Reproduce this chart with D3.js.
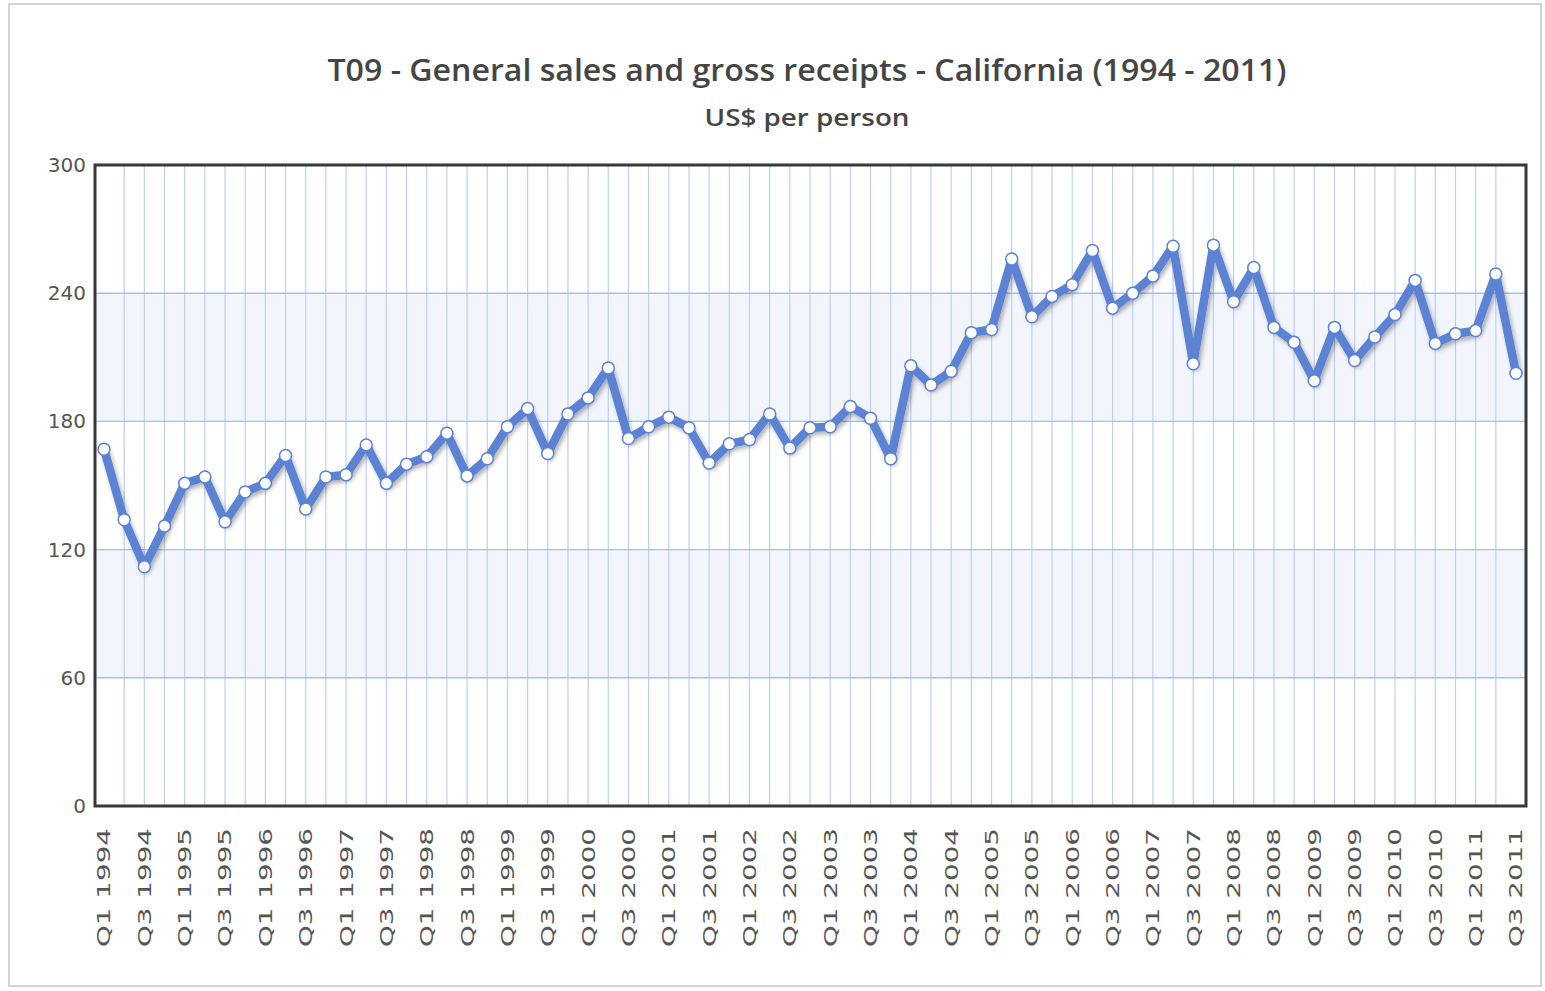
<html>
<head>
<script src="https://d3js.org/d3.v7.min.js"></script>
<style>
    body { margin: 0; background: #fff; }
    text { font-family: "DejaVu Sans", Verdana, sans-serif; }
</style>
</head>
<body>
<svg width="1545" height="991"></svg>
<script>
// quarter categories Q1 1994 .. Q3 2011
var years = d3.range(1994, 2012);
var quarters = [];
years.forEach(function(y) {
    ["Q1", "Q2", "Q3", "Q4"].forEach(function(q) { quarters.push(q + "  " + y); });
});
quarters = quarters.slice(0, 71);

// US$ per person
var values = [167, 134, 112, 131, 151, 154, 133, 147, 151, 164,
              139, 154, 155, 169, 151, 160, 163.5, 174.5, 154.5, 162.5,
              177.5, 186, 165, 183.5, 191, 205, 172, 177.5, 182, 177,
              160.5, 169.5, 171.5, 183.5, 167.5, 177, 177.5, 187, 181.5, 162.5,
              206, 197, 203.5, 221.5, 223, 256, 229, 238.5, 244, 260,
              233, 240, 248, 262, 207, 262.5, 236, 252, 224, 217,
              199, 224, 208.5, 219.5, 230, 246, 216.5, 221, 222.5, 249,
              202.5];

var yTicks = [0, 60, 120, 180, 240, 300];
var bands = [[60, 120], [180, 240]];
var tickLabels = quarters.filter(function(d, i) { return i % 2 == 0; });

var plotLeft = 95, plotRight = 1526, plotTop = 165, plotBottom = 806;

var svg = d3.select("svg");

var x = d3.scalePoint().domain(quarters).range([104, 1516]);
var y = d3.scaleLinear().domain([0, 300]).range([plotBottom, plotTop]);

// outer frame
svg.append("rect")
    .attr("x", 9).attr("y", 4)
    .attr("width", 1532).attr("height", 982)
    .attr("fill", "#fff")
    .attr("stroke", "#d4d4d4")
    .attr("stroke-width", 2);

var defs = svg.append("defs");
var f = defs.append("filter").attr("id", "shadow")
    .attr("x", "-5%").attr("y", "-20%").attr("width", "110%").attr("height", "140%");
f.append("feDropShadow")
    .attr("dx", 2).attr("dy", 3).attr("stdDeviation", 2)
    .attr("flood-color", "#000").attr("flood-opacity", 0.3);

// alternating bands
svg.selectAll(".band")
    .data(bands)
    .enter().append("rect")
    .attr("x", plotLeft)
    .attr("width", plotRight - plotLeft)
    .attr("y", function(d) { return y(d[1]); })
    .attr("height", function(d) { return y(d[0]) - y(d[1]); })
    .attr("fill", "#f3f5fc");

// vertical grid, one per quarter (not at the ends)
svg.append("g")
    .selectAll("line")
    .data(quarters.slice(1, quarters.length - 1))
    .enter().append("line")
    .attr("x1", function(d) { return x(d); })
    .attr("x2", function(d) { return x(d); })
    .attr("y1", plotTop).attr("y2", plotBottom)
    .attr("stroke", "#bccff4")
    .attr("stroke-width", 1.2);

// horizontal grid
svg.append("g")
    .selectAll("line")
    .data(yTicks.slice(1, yTicks.length - 1))
    .enter().append("line")
    .attr("x1", plotLeft).attr("x2", plotRight)
    .attr("y1", function(d) { return y(d); })
    .attr("y2", function(d) { return y(d); })
    .attr("stroke", "#a6bff0")
    .attr("stroke-width", 1.4);

// plot border
svg.append("rect")
    .attr("x", plotLeft).attr("y", plotTop)
    .attr("width", plotRight - plotLeft).attr("height", plotBottom - plotTop)
    .attr("fill", "none")
    .attr("stroke", "#383838")
    .attr("stroke-width", 3);

// y axis labels
var yAxis = d3.axisLeft(y).tickValues(yTicks).tickSize(0).tickPadding(9);
var gy = svg.append("g")
    .attr("transform", "translate(" + plotLeft + ",0)")
    .call(yAxis);
gy.select(".domain").remove();
gy.selectAll("text")
    .attr("fill", "#555")
    .style("font-family", "'DejaVu Sans', sans-serif")
    .style("font-size", "20px");

// x axis labels
var xAxis = d3.axisBottom(x).tickValues(tickLabels).tickSize(0);
var gx = svg.append("g")
    .attr("transform", "translate(0," + plotBottom + ")")
    .call(xAxis);
gx.select(".domain").remove();
gx.selectAll("text")
    .attr("transform", "rotate(-90)")
    .attr("x", -22)
    .attr("y", 0)
    .attr("dy", "0.35em")
    .attr("text-anchor", "end")
    .attr("fill", "#555")
    .attr("textLength", 119)
    .attr("lengthAdjust", "spacingAndGlyphs")
    .style("font-family", "'DejaVu Sans', sans-serif")
    .style("font-size", "17px");

// the line
var line = d3.line()
    .x(function(d, i) { return x(quarters[i]); })
    .y(function(d) { return y(d); });

svg.append("path")
    .datum(values)
    .attr("d", line)
    .attr("fill", "none")
    .attr("stroke", "#5b82d4")
    .attr("stroke-width", 8.5)
    .attr("stroke-linejoin", "round")
    .attr("filter", "url(#shadow)");

svg.append("g")
    .selectAll("circle")
    .data(values)
    .enter().append("circle")
    .attr("cx", function(d, i) { return x(quarters[i]); })
    .attr("cy", function(d) { return y(d); })
    .attr("r", 6)
    .attr("fill", "#fff")
    .attr("stroke", "#5b82d4")
    .attr("stroke-width", 1.5);

// titles
svg.append("text")
    .attr("x", 807).attr("y", 81)
    .attr("text-anchor", "middle")
    .attr("fill", "#454545")
    .attr("textLength", 959)
    .attr("lengthAdjust", "spacingAndGlyphs")
    .style("font-family", "'Open Sans', sans-serif")
    .style("font-weight", "600")
    .style("font-size", "31px")
    .text("T09 - General sales and gross receipts - California (1994 - 2011)");

svg.append("text")
    .attr("x", 807).attr("y", 126)
    .attr("text-anchor", "middle")
    .attr("fill", "#454545")
    .attr("textLength", 205)
    .attr("lengthAdjust", "spacingAndGlyphs")
    .style("font-family", "'Open Sans', sans-serif")
    .style("font-weight", "600")
    .style("font-size", "24px")
    .text("US$ per person");
</script>
</body>
</html>
